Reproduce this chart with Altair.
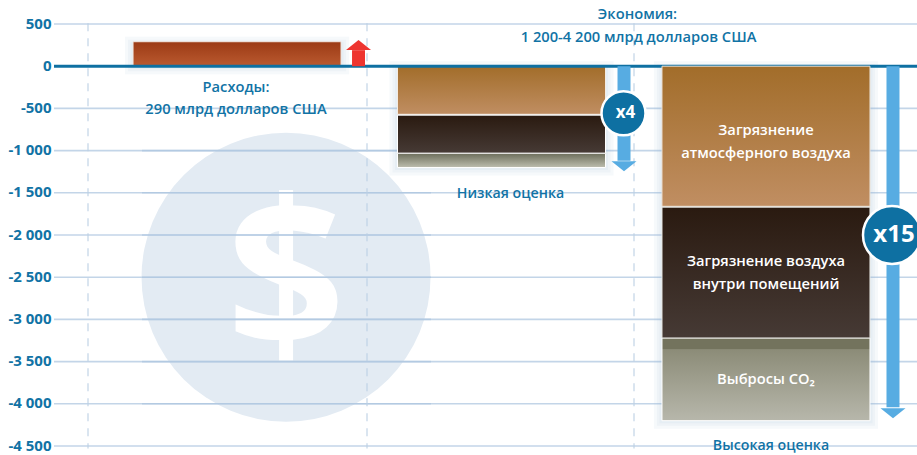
import altair as alt
import pandas as pd

# Chart values
groups = ["Расходы", "Низкая оценка", "Высокая оценка"]
ticks = [500, 0, -500, -1000, -1500, -2000, -2500, -3000, -3500, -4000, -4500]
inner_ticks = [-1000, -1500, -2000, -2500, -3000, -3500, -4000]
spending = 290
low_air = [0, -570]
low_indoor = [-580, -1030]
low_co2 = [-1030, -1200]
high_air = [0, -1660]
high_indoor = [-1670, -3220]
high_co2 = [-3220, -4200]
arrow_shaft_end = [190, -1120, -4040]
arrow_tip = [310, -1244, -4170]

FONT = "Open Sans"
BLUE = "#1173a5"
BAND = alt.Scale(domain=groups, paddingInner=0.2136, paddingOuter=0.2383, align=0.627)
VALUE = alt.Scale(domain=[-4500, 500], nice=False, zero=False)
Y_AXIS = alt.Axis(
    values=ticks, grid=False, domain=False, ticks=False, labelPadding=3, labelOffset=-1,
    labelFont=FONT, labelFontSize=15, labelFontWeight=700, labelColor=BLUE,
    labelBound=False, labelFlush=False, labelOverlap=False,
    labelExpr="replace(replace(format(datum.value, ','), ',', ' '), '−', '-')",
)

x_band = alt.X("group:N", scale=BAND, axis=None)


def y_of(field):
    return alt.Y(f"{field}:Q", scale=VALUE, title=None, axis=Y_AXIS)


y_val = y_of("start")


def grad(*stops):
    return alt.Gradient(
        gradient="linear", x1=0, y1=0, x2=0, y2=1,
        stops=[alt.GradientStop(offset=o, color=c) for o, c in stops],
    )


BROWN = grad((0, "#a26d2a"), (1, "#c08e62"))
DARK = grad((0, "#2a1a10"), (1, "#463a35"))
LOW_GREY = grad((0, "#6c6d5a"), (1, "#bcbdae"))
HIGH_GREY = grad((0, "#73735d"), (0.135, "#73735d"), (0.14, "#8c8c78"), (1, "#b7b7ab"))
RUST = grad((0, "#9b3a15"), (1, "#bb5a30"))


def segment(group, span, fill, stroke="#ffffff"):
    return alt.Chart(pd.DataFrame({"group": [group], "start": [span[0]], "end": [span[1]]})).mark_bar(
        color=fill, stroke=stroke, strokeWidth=1
    ).encode(x=x_band, y=y_val, y2="end:Q")


def shadow(group, span):
    base = pd.DataFrame({"group": [group], "start": [span[0]], "end": [span[1]]})
    return alt.layer(*[
        alt.Chart(base).mark_bar(
            color="#8fb0d0", stroke="#8fb0d0", strokeWidth=w, opacity=0.07, yOffset=3
        ).encode(x=x_band, y=y_val, y2="end:Q")
        for w in (16, 10, 5)
    ])


def label(text, group, level, dx=0, color=BLUE, size=14.7):
    return alt.Chart(pd.DataFrame({"group": [group], "start": [level], "t": [text]})).mark_text(
        font=FONT, fontSize=size, fontWeight=600, color=color, dx=dx, baseline="middle"
    ).encode(x=x_band, y=y_val, text="t:N")


def side_arrow(i, offset, color, head):
    row = pd.DataFrame({
        "group": [groups[i]], "start": [0], "shaft": [arrow_shaft_end[i]], "tip": [arrow_tip[i]],
    })
    shaft = alt.Chart(row).mark_rule(color=color, strokeWidth=13, xOffset=offset).encode(
        x=x_band, y=y_val, y2="shaft:Q"
    )
    point = alt.Chart(row).mark_point(
        shape=head, size=625, filled=True, color=color, opacity=1, xOffset=offset
    ).encode(x=x_band, y=y_of("tip"))
    return shaft + point


def badge(group, level, offset, diameter, text, size):
    row = pd.DataFrame({"group": [group], "start": [level], "t": [text]})
    disc = alt.Chart(row).mark_point(
        shape="circle", size=diameter ** 2, filled=True, fill="#0e70a2", opacity=1,
        stroke="#ffffff", strokeWidth=2.5, xOffset=offset,
    ).encode(x=x_band, y=y_val)
    caption = alt.Chart(row).mark_text(
        font=FONT, fontSize=size, fontWeight=700, color="#ffffff", dx=offset + 2, baseline="middle"
    ).encode(x=x_band, y=y_val, text="t:N")
    return disc + caption


# Watermark: pale disc with a dollar sign
mark_row = pd.DataFrame({"group": [groups[0]], "start": [-2500], "t": ["$"]})
disc = alt.Chart(mark_row).mark_point(
    shape="circle", size=289 ** 2, filled=True, fill="#e3ebf3", opacity=1, xOffset=49
).encode(x=x_band, y=y_val)
dollar = alt.Chart(mark_row).mark_text(
    font=FONT, fontSize=208, fontWeight=700, color="#ffffff", dx=49, dy=9, baseline="middle"
).encode(x=x_band, y=y_val, text="t:N")

# Horizontal grid and its stronger stretch across the watermark
grid = alt.Chart(pd.DataFrame({"start": ticks})).mark_rule(
    color="#c3d5e8", strokeWidth=1.6
).encode(y=y_val)
inner_grid = alt.Chart(pd.DataFrame({"start": inner_ticks})).mark_rule(
    color="#a9c3de", strokeWidth=1.6, opacity=0.6
).encode(y=y_val, x=alt.value(88), x2=alt.value(377))

# Dashed separators between the three groups
separators = alt.layer(*[
    alt.Chart(pd.DataFrame({"start": [510], "end": [-4530]})).mark_rule(
        color="#bcd0e4", strokeWidth=2, strokeDash=[8, 7], opacity=0.55
    ).encode(y=y_val, y2="end:Q", x=alt.value(px))
    for px in (34, 313, 580)
])

zero = alt.Chart(pd.DataFrame({"start": [0]})).mark_rule(color="#0e70a2", strokeWidth=3).encode(y=y_val)

low_total = [low_air[0], low_co2[1]]
high_total = [high_air[0], high_co2[1]]

chart = alt.layer(
    disc, dollar, grid, inner_grid, separators,
    shadow(groups[0], [spending, 0]), shadow(groups[1], low_total), shadow(groups[2], high_total),
    segment(groups[0], [spending, 0], RUST, stroke="#f0e6e0"),
    segment(groups[1], low_air, BROWN, stroke="#f3ebe3"),
    segment(groups[1], low_co2, LOW_GREY),
    segment(groups[1], low_indoor, DARK),
    zero,
    segment(groups[2], high_air, BROWN, stroke="#eadfd2"),
    segment(groups[2], high_co2, HIGH_GREY),
    segment(groups[2], high_indoor, DARK, stroke="#e8e8e4"),
    side_arrow(0, 121.5, "#ee3530", "M0,0L1,0.8L-1,0.8Z"),
    side_arrow(1, 122.5, "#57ace2", "M0,0L1,-0.8L-1,-0.8Z"),
    side_arrow(2, 127, "#57ace2", "M0,0L1,-0.8L-1,-0.8Z"),
    badge(groups[1], -557, 122, 44, "x4", 17),
    badge(groups[2], -2000, 126, 58, "x15", 24),
    label("Расходы:", groups[0], -260, dx=-1),
    label("290 млрд долларов США", groups[0], -520, dx=-1),
    label("Экономия:", groups[1], 605, dx=136),
    label("1 200-4 200 млрд долларов США", groups[1], 340, dx=137),
    label("Низкая оценка", groups[1], -1517, dx=9, size=14.2),
    label("Высокая оценка", groups[2], -4500, dx=5, size=14.2),
    label("Загрязнение", groups[2], -770, color="#ffffff"),
    label("атмосферного воздуха", groups[2], -1040, color="#ffffff"),
    label("Загрязнение воздуха", groups[2], -2320, color="#ffffff"),
    label("внутри помещений", groups[2], -2595, color="#ffffff"),
    label("Выбросы CO₂", groups[2], -3720, color="#ffffff"),
).properties(
    width=863,
    height=422,
    autosize=alt.AutoSizeParams(type="none"),
    padding={"left": 54, "top": 24, "right": 0, "bottom": 9},
).configure_view(stroke=None)

chart.save("out.html", embed_options={"renderer": "svg", "actions": False})
